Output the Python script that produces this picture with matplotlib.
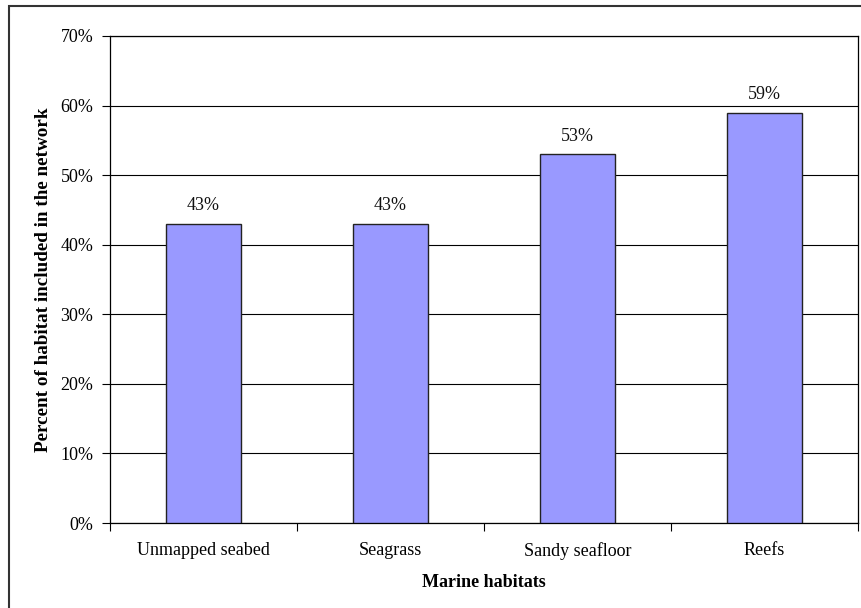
import matplotlib
matplotlib.use("Agg")
import matplotlib.pyplot as plt
from matplotlib.patches import Rectangle
from matplotlib.ticker import FuncFormatter, MultipleLocator

categories = ["Unmapped seabed", "Seagrass", "Sandy seafloor", "Reefs"]
values = [43, 43, 53, 59]

plt.rcParams["font.family"] = ["Liberation Serif", "DejaVu Serif"]

fig = plt.figure(figsize=(8.62, 6.08), dpi=100)
ax = fig.add_axes([110 / 862, 1 - 523 / 608, (858 - 110) / 862, (523 - 36) / 608])

x = list(range(len(categories)))
bars = ax.bar(x, values, width=0.4, color="#9999FF", edgecolor="#222222",
              linewidth=1.0, zorder=3)

for xi, v in zip(x, values):
    ax.annotate(f"{v}%", (xi, v), xytext=(0, 7), textcoords="offset points",
                ha="center", va="bottom", fontsize=13, color="#111111")

ax.set_xlim(-0.5, len(categories) - 0.5)
ax.set_ylim(0, 70)
ax.yaxis.set_major_locator(MultipleLocator(10))
ax.yaxis.set_major_formatter(FuncFormatter(lambda v, _: f"{v:.0f}%"))
ax.yaxis.grid(True, color="black", linewidth=0.8, zorder=0)

ax.set_xticks(x)
ax.set_xticklabels(categories, fontsize=13)
ax.tick_params(axis="x", length=0, pad=14)
ax.set_xticks([i - 0.5 for i in range(len(categories) + 1)], minor=True)
ax.tick_params(axis="x", which="minor", length=6, width=0.8, direction="out")
ax.tick_params(axis="y", labelsize=13, length=6, width=0.8, direction="out", pad=6)

for s in ax.spines.values():
    s.set_color("black")
    s.set_linewidth(0.9)

ax.set_xlabel("Marine habitats", fontsize=13, fontweight="bold", labelpad=10)
ax.set_ylabel("Percent of habitat included in the network", fontsize=13.8,
              fontweight="bold", labelpad=6)

fig.patches.append(Rectangle((9 / 862, -0.1), 2.0, 1.1 - 6 / 608, fill=False,
                             edgecolor="#333333", linewidth=1.5,
                             transform=fig.transFigure, figure=fig))

fig.savefig("out.png", dpi=100)
